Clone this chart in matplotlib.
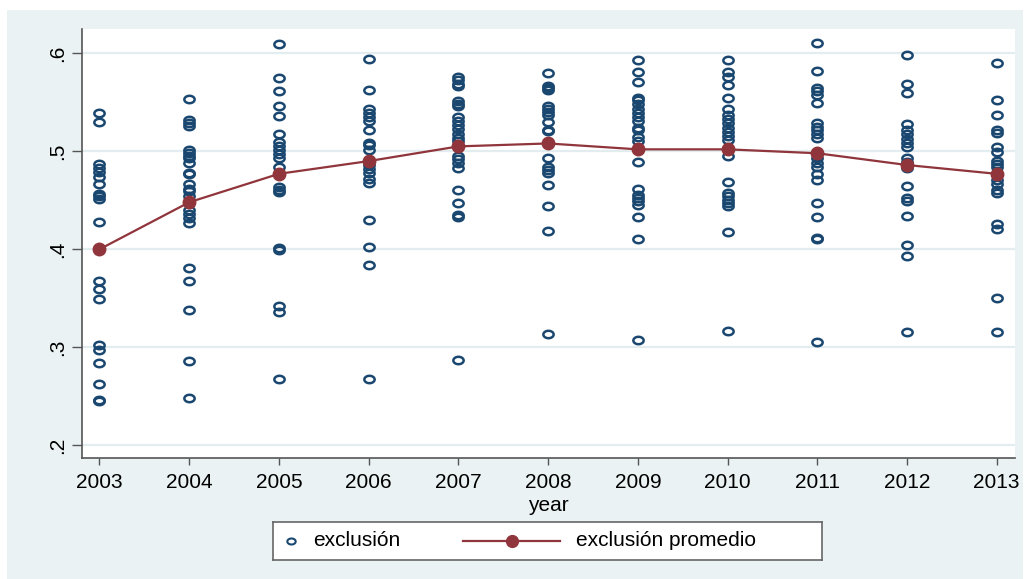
import numpy as np
import matplotlib
matplotlib.use("Agg")
import matplotlib.pyplot as plt
from matplotlib.path import Path
from matplotlib.patches import Rectangle
from matplotlib.lines import Line2D

plt.rcParams['font.family'] = ['Liberation Sans', 'DejaVu Sans']

years = [2003, 2004, 2005, 2006, 2007, 2008, 2009, 2010, 2011, 2012, 2013]

excl_2003 = [0.539, 0.530, 0.487, 0.483, 0.479, 0.474, 0.467, 0.456, 0.454, 0.451,
             0.428, 0.400, 0.368, 0.359, 0.349, 0.302, 0.297, 0.284, 0.263, 0.246, 0.245]
excl_2004 = [0.553, 0.532, 0.529, 0.526, 0.501, 0.498, 0.495, 0.493, 0.488, 0.478,
             0.477, 0.467, 0.462, 0.459, 0.454, 0.448, 0.440, 0.436, 0.432, 0.427,
             0.381, 0.368, 0.338, 0.286, 0.248]
excl_2005 = [0.610, 0.575, 0.562, 0.546, 0.536, 0.518, 0.509, 0.505, 0.501, 0.497,
             0.493, 0.484, 0.477, 0.464, 0.461, 0.458, 0.401, 0.399, 0.342, 0.336, 0.268]
excl_2006 = [0.594, 0.563, 0.543, 0.539, 0.535, 0.531, 0.522, 0.508, 0.506, 0.501,
             0.490, 0.486, 0.482, 0.478, 0.472, 0.468, 0.430, 0.402, 0.384, 0.268]
excl_2007 = [0.576, 0.573, 0.569, 0.567, 0.551, 0.548, 0.546, 0.535, 0.531, 0.527,
             0.523, 0.518, 0.514, 0.510, 0.505, 0.495, 0.492, 0.488, 0.483, 0.461,
             0.447, 0.435, 0.433, 0.287]
excl_2008 = [0.580, 0.567, 0.565, 0.563, 0.546, 0.543, 0.540, 0.537, 0.530, 0.522,
             0.521, 0.508, 0.493, 0.484, 0.481, 0.478, 0.466, 0.444, 0.419, 0.314]
excl_2009 = [0.593, 0.581, 0.571, 0.554, 0.552, 0.548, 0.543, 0.539, 0.535, 0.531,
             0.524, 0.522, 0.515, 0.510, 0.502, 0.489, 0.462, 0.455, 0.452, 0.449,
             0.445, 0.433, 0.410, 0.307]
excl_2010 = [0.593, 0.581, 0.576, 0.568, 0.554, 0.543, 0.537, 0.533, 0.529, 0.524,
             0.520, 0.516, 0.512, 0.502, 0.495, 0.469, 0.457, 0.454, 0.450, 0.447,
             0.444, 0.418, 0.317]
excl_2011 = [0.611, 0.582, 0.565, 0.562, 0.557, 0.549, 0.529, 0.525, 0.522, 0.518,
             0.514, 0.498, 0.493, 0.488, 0.484, 0.477, 0.471, 0.447, 0.433, 0.412,
             0.410, 0.305]
excl_2012 = [0.598, 0.569, 0.560, 0.528, 0.522, 0.518, 0.513, 0.508, 0.504, 0.493,
             0.489, 0.486, 0.483, 0.465, 0.452, 0.449, 0.434, 0.404, 0.393, 0.316]
excl_2013 = [0.590, 0.552, 0.537, 0.522, 0.519, 0.504, 0.499, 0.490, 0.487, 0.484,
             0.477, 0.471, 0.467, 0.461, 0.457, 0.426, 0.421, 0.350, 0.316]

exclusion = [excl_2003, excl_2004, excl_2005, excl_2006, excl_2007, excl_2008,
             excl_2009, excl_2010, excl_2011, excl_2012, excl_2013]

excl_mean = [0.400, 0.448, 0.477, 0.490, 0.505, 0.508, 0.502, 0.502, 0.498, 0.486, 0.477]

y_ticks = [0.2, 0.3, 0.4, 0.5, 0.6]
y_tick_labels = ['.2', '.3', '.4', '.5', '.6']

NAVY = '#1A476F'
MAROON = '#90353B'
REGION = '#EAF2F3'
GRID = '#E3ECEE'
AXIS = '#555555'
FS = 15

W, H = 1027, 579
fig = plt.figure(figsize=(W / 100, H / 100), dpi=100, facecolor='white')

# graph region (light bluish gray panel)
fig.patches.append(Rectangle((7 / W, 0), (1023 - 7) / W, (H - 10) / H,
                             transform=fig.transFigure, facecolor=REGION,
                             edgecolor='none', zorder=-10))

# slightly wide hollow marker
t = np.linspace(0, 2 * np.pi, 60)
oval = Path(np.column_stack([np.cos(t), 0.72 * np.sin(t)]), closed=True)

left, right, top, bottom = 82, 1015, 29.3, 457.7
ax = fig.add_axes([left / W, 1 - bottom / H, (right - left) / W, (bottom - top) / H])
ax.set_facecolor('white')

for yr, vals in zip(years, exclusion):
    ax.plot([yr] * len(vals), vals, linestyle='none', marker=oval, markersize=7.4,
            markerfacecolor='none', markeredgecolor=NAVY, markeredgewidth=1.8,
            zorder=3)

ax.plot(years, excl_mean, color=MAROON, linewidth=1.6, marker='o', markersize=9,
        markerfacecolor=MAROON, markeredgecolor=MAROON, zorder=4)

ax.set_xlim(2002.805, 2013.204)
ax.set_ylim(0.1873, 0.6245)
ax.set_xticks(years)
ax.set_xticklabels([str(y) for y in years])
ax.set_yticks(y_ticks)
ax.set_yticklabels(y_tick_labels, rotation=90, va='center')

ax.grid(axis='y', color=GRID, linewidth=1.6, zorder=1)
ax.set_axisbelow(True)
for side in ('top', 'right'):
    ax.spines[side].set_visible(False)
for side in ('left', 'bottom'):
    ax.spines[side].set_color(AXIS)
    ax.spines[side].set_linewidth(1.2)

ax.tick_params(axis='y', length=7, width=1.0, color=AXIS, pad=4, labelsize=FS)
ax.tick_params(axis='x', length=5, width=1.0, color=AXIS, pad=6, labelsize=FS)
ax.set_xlabel('year', fontsize=FS, labelpad=3)

# legend box
lx0, lx1, ly0, ly1 = 273, 822, 522, 560
lax = fig.add_axes([lx0 / W, 1 - ly1 / H, (lx1 - lx0) / W, (ly1 - ly0) / H])
lax.set_xlim(lx0, lx1)
lax.set_ylim(ly1, ly0)
lax.set_xticks([])
lax.set_yticks([])
lax.set_facecolor('white')
for s in lax.spines.values():
    s.set_color('#666666')
    s.set_linewidth(1.2)
ymid = (ly0 + ly1) / 2
lax.add_line(Line2D([291], [ymid], linestyle='none', marker=oval, markersize=6,
                    markerfacecolor='none', markeredgecolor=NAVY, markeredgewidth=1.5))
lax.text(313, ymid, 'exclusión', fontsize=FS, va='center', ha='left')
lax.add_line(Line2D([463, 560], [ymid, ymid], color=MAROON, linewidth=1.6))
lax.add_line(Line2D([512], [ymid], linestyle='none', marker='o', markersize=8.5,
                    markerfacecolor=MAROON, markeredgecolor=MAROON))
lax.text(576, ymid, 'exclusión promedio', fontsize=FS, va='center', ha='left')

fig.savefig('out.png', dpi=100, facecolor='white')
